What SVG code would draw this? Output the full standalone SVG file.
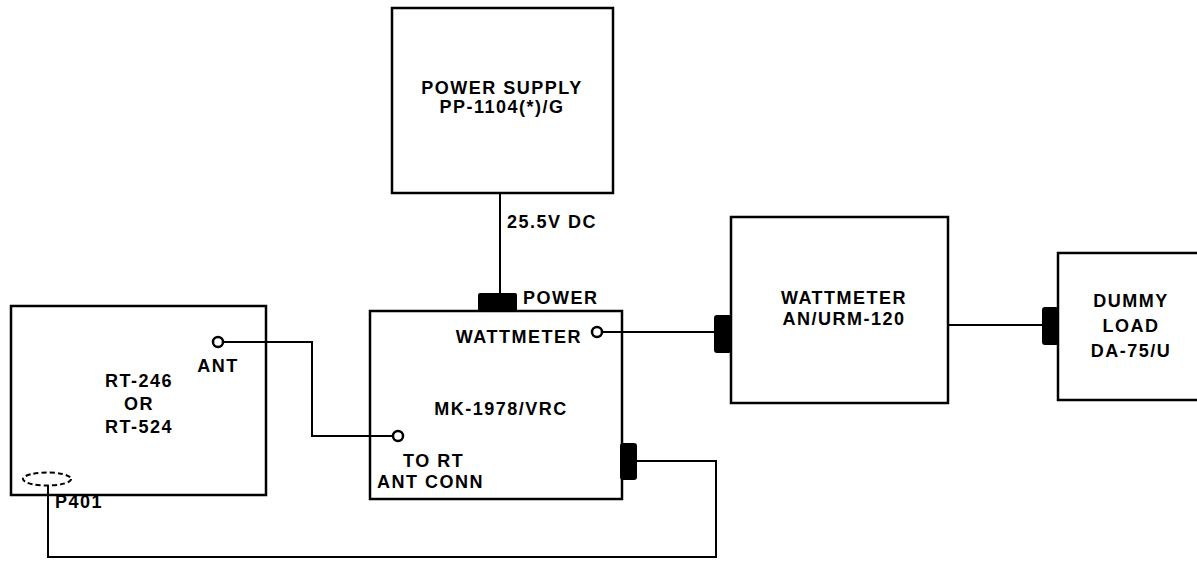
<svg xmlns="http://www.w3.org/2000/svg" width="1197" height="563" viewBox="0 0 1197 563">
<style>
.box{fill:none;stroke:#000;stroke-width:2.5}
.w{fill:none;stroke:#000;stroke-width:2}
.jack{fill:#fff;stroke:#000;stroke-width:2.5}
.plug{fill:#000;stroke:none}
text{font-family:"Liberation Sans",Arial,sans-serif;font-weight:bold;font-size:18px;letter-spacing:1.5px;fill:#000}
.m{text-anchor:middle}
.e{text-anchor:end}
</style>
<rect width="1197" height="563" fill="#fff"/>
<g id="connectors">
<path class="w" d="M223,342 H312 V436 H393"/>
<path class="w" d="M500,193 V293"/>
<path class="w" d="M602,332 H714"/>
<path class="w" d="M947,325 H1042"/>
<path class="w" d="M637,461 H716 V557 H48 V485"/>
</g>
<g id="power-supply">
<rect class="box" x="392" y="8" width="221" height="185"/>
<text class="m" x="502" y="94">POWER SUPPLY</text>
<text class="m" x="502" y="113">PP-1104(*)/G</text>
<text x="507" y="228">25.5V DC</text>
</g>
<g id="rt">
<rect class="box" x="11" y="306" width="255" height="189"/>
<circle class="jack" cx="218" cy="342" r="5"/>
<text class="m" x="218" y="372">ANT</text>
<text class="m" x="139" y="387">RT-246</text>
<text class="m" x="139" y="410">OR</text>
<text class="m" x="139" y="433">RT-524</text>
<ellipse cx="47" cy="479" rx="24" ry="6.5" fill="none" stroke="#000" stroke-width="2" stroke-dasharray="5,3"/>
<text x="55" y="508">P401</text>
</g>
<g id="mk1978">
<rect class="box" x="370" y="311" width="252" height="188"/>
<rect class="plug" x="478" y="293" width="39" height="19" rx="2"/>
<rect class="plug" x="620" y="443" width="17" height="37" rx="3"/>
<text x="523" y="304">POWER</text>
<text class="e" x="582" y="343">WATTMETER</text>
<circle class="jack" cx="597" cy="332" r="5"/>
<text class="m" x="501" y="415">MK-1978/VRC</text>
<circle class="jack" cx="398" cy="436" r="5"/>
<text x="403" y="467">TO RT</text>
<text x="377" y="488">ANT CONN</text>
</g>
<g id="wattmeter">
<rect class="box" x="731" y="217" width="217" height="186"/>
<rect class="plug" x="714" y="315" width="18" height="38" rx="3"/>
<text class="m" x="844" y="304">WATTMETER</text>
<text class="m" x="844" y="325">AN/URM-120</text>
</g>
<g id="dummy-load">
<path class="box" d="M1205,253 H1058 V400 H1205"/>
<rect class="plug" x="1042" y="307" width="17" height="38" rx="3"/>
<text class="m" x="1131" y="307">DUMMY</text>
<text class="m" x="1131" y="332">LOAD</text>
<text class="m" x="1131" y="357">DA-75/U</text>
</g>
</svg>
